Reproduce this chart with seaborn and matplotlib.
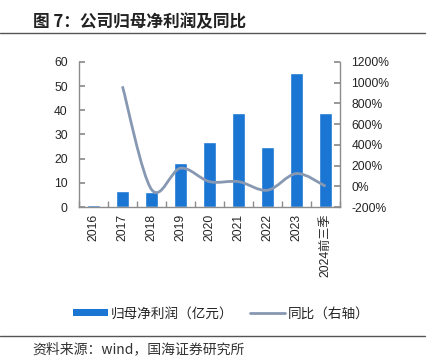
import matplotlib
matplotlib.use("Agg")
from matplotlib import pyplot as plt
from matplotlib.path import Path
from matplotlib.patches import PathPatch, Patch
from matplotlib.lines import Line2D
import numpy as np
import pandas as pd
import seaborn as sns

# === Data ===
years = ["2016", "2017", "2018", "2019", "2020", "2021", "2022", "2023", "2024前三季"]
profit = [0.8, 6.5, 6.3, 18.0, 27.0, 39.0, 25.0, 55.5, 39.0]
yoy_years = ["2017", "2018", "2019", "2020", "2021", "2022", "2023", "2024前三季"]
yoy = [965, -30, 175, 45, 45, -38, 123, 0]

sns.set_theme(style="white")
plt.rcParams['font.family'] = ['Liberation Sans', 'Noto Sans CJK SC']

BAR = "#1a75d3"
LINE = "#8798b2"
SPINE = "#8c8c8c"

fig = plt.figure(figsize=(4.36, 3.56), dpi=100)
ax = fig.add_axes([0.181, 0.4185, 0.599, 0.4075])

df = pd.DataFrame({"year": years, "profit": profit})
sns.barplot(data=df, x="year", y="profit", color=BAR, width=0.42, saturation=1, ax=ax)
ax.set_xlim(-0.5, len(years) - 0.5)
ax.set_ylim(0, 60)
ax.set_yticks(range(0, 61, 10))
ax.set_xlabel("")
ax.set_ylabel("")

ax2 = ax.twinx()
ax2.set_ylim(-200, 1200)
ax2.set_yticks(range(-200, 1201, 200))
ax2.set_yticklabels([f"{v}%" for v in range(-200, 1201, 200)])

# smoothed line (Excel style) drawn through the yoy points
xs = np.array([years.index(y) for y in yoy_years], dtype=float)
ys = np.array(yoy, dtype=float)
pts = np.column_stack([xs, ys])
ext = np.vstack([pts[0], pts, pts[-1]])
verts = [tuple(pts[0])]
codes = [Path.MOVETO]
for i in range(len(pts) - 1):
    p0, p1, p2, p3 = ext[i], ext[i + 1], ext[i + 2], ext[i + 3]
    c1 = p1 + (p2 - p0) / 6
    c2 = p2 - (p3 - p1) / 6
    verts += [tuple(c1), tuple(c2), tuple(p2)]
    codes += [Path.CURVE4] * 3
ax2.add_patch(PathPatch(Path(verts, codes), facecolor="none", edgecolor=LINE, lw=2.0))

for a in (ax, ax2):
    a.spines["top"].set_visible(False)
    for s in ("left", "right", "bottom"):
        a.spines[s].set_color(SPINE)
        a.spines[s].set_linewidth(1.0)
ax.spines["right"].set_visible(False)
ax2.spines["left"].set_visible(False)
ax2.spines["bottom"].set_visible(False)

ax.tick_params(axis="y", direction="in", length=4, color=SPINE, labelsize=8.7, pad=8, left=True)
ax2.tick_params(axis="y", direction="in", length=4, color=SPINE, labelsize=8.7, pad=8, right=True)
ax.set_xticks(range(len(years)))
ax.set_xticklabels(years, rotation=90, fontsize=8.7)
ax.tick_params(axis="x", which="major", length=0, pad=5)
ax.set_xticks(np.arange(-0.5, len(years), 1), minor=True)
ax.tick_params(axis="x", which="minor", direction="in", length=4, color=SPINE, bottom=True)

# title, rules, source
fig.text(0.075, 0.937, "图 7：公司归母净利润及同比", fontsize=12, fontweight="bold",
         family=['Noto Sans CJK SC'], color="#222222", va="center")
fig.add_artist(Line2D([0.0, 0.975], [0.907, 0.907], color="#555555", lw=1.0))
fig.add_artist(Line2D([0.0, 0.975], [0.056, 0.056], color="#555555", lw=1.0))
fig.text(0.075, 0.018, "资料来源：wind，国海证券研究所", fontsize=10,
         family=['Noto Sans CJK SC'], color="#333333", va="center")

handles = [Patch(facecolor=BAR, edgecolor="none"), Line2D([], [], color=LINE, lw=2.0)]
fig.legend(handles, ["归母净利润（亿元）", "同比（右轴）"], loc="center",
           bbox_to_anchor=(0.507, 0.12), ncol=2, frameon=False,
           handlelength=2.6, handleheight=0.5, columnspacing=1.2, handletextpad=0.2,
           prop={'family': ['Noto Sans CJK SC'], 'size': 9.8})

fig.savefig("out.png", dpi=100)
